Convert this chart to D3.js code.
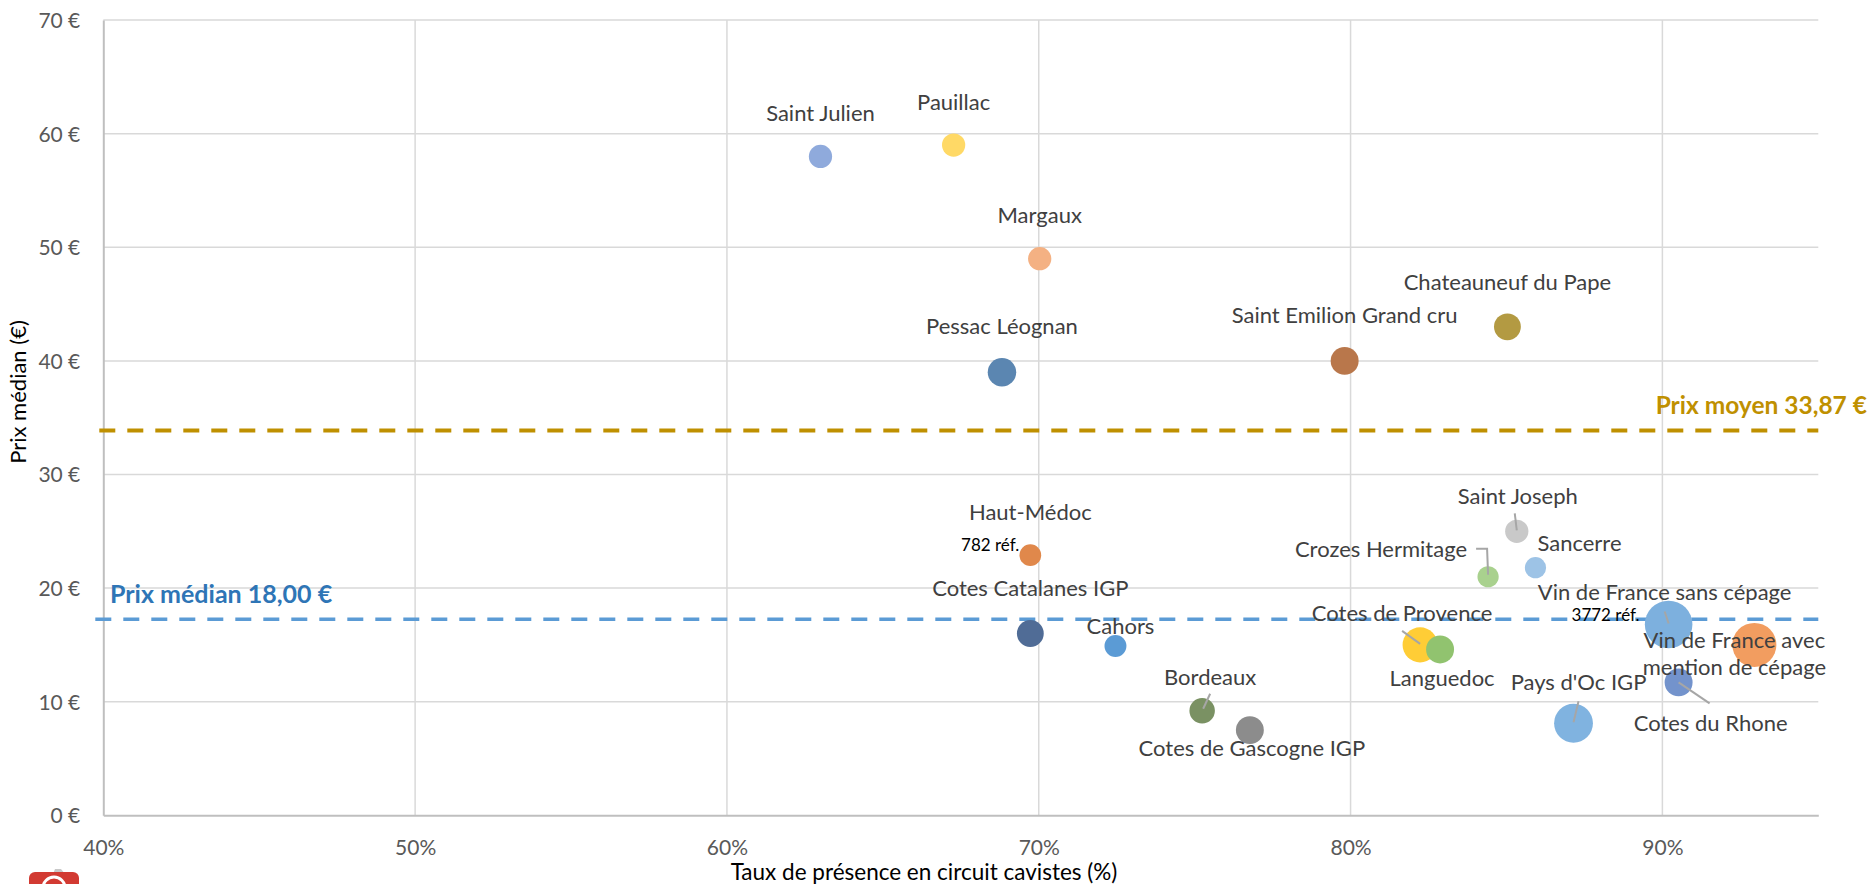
<!DOCTYPE html>
<html>
<head>
<meta charset="utf-8">
<script src="https://cdn.jsdelivr.net/npm/d3@7"></script>
<style>
  body { margin: 0; background: #fff; }
  svg { display: block; font-family: Lato, "Open Sans", sans-serif; }
</style>
</head>
<body>
<div id="chart"></div>
<script>
// appellations, in drawing order
const names = [
  "Saint Julien", "Pauillac", "Margaux", "Pessac Léognan",
  "Chateauneuf du Pape", "Saint Emilion Grand cru", "Haut-Médoc",
  "Cotes Catalanes IGP", "Cahors", "Bordeaux", "Cotes de Gascogne IGP",
  "Saint Joseph", "Crozes Hermitage", "Sancerre", "Cotes de Provence",
  "Languedoc", "Vin de France sans cépage", "Vin de France avec mention de cépage",
  "Cotes du Rhone", "Pays d'Oc IGP"
];
// taux de présence en circuit cavistes (%)
const presence = [63.0, 67.27, 70.03, 68.82, 85.03, 79.81, 69.73, 69.73, 72.46, 75.24,
                  76.77, 85.33, 84.41, 85.93, 82.23, 82.87, 90.2, 92.95, 90.52, 87.15];
// prix médian (€)
const prix = [58.0, 59.0, 49.0, 39.0, 43.0, 40.0, 22.9, 16.0, 14.9, 9.2,
              7.5, 25.0, 21.0, 21.8, 15.0, 14.6, 16.8, 15.0, 11.7, 8.1];
// nombre de références (taille des bulles)
const refs = [900, 900, 900, 1350, 1200, 1300, 782, 1200, 800, 1080,
              1300, 900, 750, 750, 2050, 1300, 3772, 3230, 1300, 2510];
const colors = ["#8FAADC", "#FFD966", "#F4B183", "#5B86B1", "#B39A42", "#B9774B", "#E0884B",
                "#506C96", "#5B9BD5", "#7A9163", "#8C8C8C", "#C9C9C9", "#A9D18E", "#9DC3E6",
                "#FFCD36", "#91C36F", "#7DB0DE", "#F29D60", "#7393CC", "#80B3E0"];

const xTicks = [40, 50, 60, 70, 80, 90];
const yTicks = [0, 10, 20, 30, 40, 50, 60, 70];
const prixMoyen = 33.87;
const prixMoyenLabel = "Prix moyen 33,87 €";
const prixMedianLine = 17.25;
const prixMedianLabel = "Prix médian 18,00 €";
const refNotes = [{ name: "Haut-Médoc", text: "782 réf." },
                  { name: "Vin de France sans cépage", text: "3772 réf." }];

// label placement relative to each bubble (pixels)
const labelPos = {
  "Saint Julien": { dx: 0, dy: -43 },
  "Pauillac": { dx: 0, dy: -43 },
  "Margaux": { dx: 0, dy: -43 },
  "Pessac Léognan": { dx: 0, dy: -46 },
  "Chateauneuf du Pape": { dx: 0, dy: -45 },
  "Saint Emilion Grand cru": { dx: 0, dy: -46 },
  "Haut-Médoc": { dx: 0, dy: -43 },
  "Cotes Catalanes IGP": { dx: 0, dy: -45 },
  "Cahors": { dx: 5, dy: -20 },
  "Bordeaux": { dx: 8, dy: -33, leader: [[8, -17], [1, -2]] },
  "Cotes de Gascogne IGP": { dx: 2, dy: 18 },
  "Saint Joseph": { dx: 1, dy: -35, leader: [[-2, -18], [0, -1]] },
  "Crozes Hermitage": { dx: -21, dy: -27, anchor: "end", leader: [[-12, -28], [-1, -28], [0, -2]] },
  "Sancerre": { dx: 44, dy: -24 },
  "Cotes de Provence": { dx: -18, dy: -32, leader: [[-18, -14], [0, -1]] },
  "Languedoc": { dx: 2, dy: 29 },
  "Vin de France sans cépage": { dx: -4, dy: -32, leader: [[-4, -13], [0, -1]] },
  "Vin de France avec mention de cépage": { dx: -20, dy: -5, lines: ["Vin de France avec", "mention de cépage"] },
  "Cotes du Rhone": { dx: 32, dy: 41, leader: [[0, 0], [31, 21]] },
  "Pays d'Oc IGP": { dx: 5, dy: -41, leader: [[5, -22], [0, -1]] }
};
const notePos = { "Haut-Médoc": { dx: -11, dy: -10 }, "Vin de France sans cépage": { dx: -29, dy: -9 } };

const width = 1872, height = 884;
const plotLeft = 103.3, plotRight = 1818.3, plotTop = 20.1, plotBottom = 815.3;

const data = names.map((n, i) => ({ name: n, x: presence[i], y: prix[i], refs: refs[i], color: colors[i] }));

const x = d3.scaleLinear().domain([40, 95]).range([plotLeft, plotRight]);
const y = d3.scaleLinear().domain([0, 70]).range([plotBottom, plotTop]);
const r = d3.scaleSqrt().domain([0, 3772]).range([0, 23.8]);

const svg = d3.select("#chart").append("svg")
  .attr("width", width)
  .attr("height", height);

// gridlines
svg.append("g")
  .selectAll("line")
  .data(yTicks.filter(d => d > 0))
  .join("line")
  .attr("x1", plotLeft).attr("x2", plotRight)
  .attr("y1", d => y(d)).attr("y2", d => y(d))
  .attr("stroke", "#D9D9D9").attr("stroke-width", 1.5);
svg.append("g")
  .selectAll("line")
  .data(xTicks.filter(d => d > 40))
  .join("line")
  .attr("x1", d => x(d)).attr("x2", d => x(d))
  .attr("y1", plotTop).attr("y2", plotBottom)
  .attr("stroke", "#D9D9D9").attr("stroke-width", 1.5);

// axes
const yAxis = svg.append("g")
  .attr("transform", `translate(${plotLeft},0)`)
  .call(d3.axisLeft(y).tickValues(yTicks).tickFormat(d => d + " €").tickSize(0).tickPadding(23));
const xAxis = svg.append("g")
  .attr("transform", `translate(0,${plotBottom})`)
  .call(d3.axisBottom(x).tickValues(xTicks).tickFormat(d => d + "%").tickSize(0));
[yAxis, xAxis].forEach(g => {
  g.select(".domain").attr("stroke", "#BFBFBF").attr("stroke-width", 2);
  g.selectAll("text").attr("font-size", 21).attr("fill", "#595959").attr("font-family", "Lato, sans-serif");
});
xAxis.selectAll("text").attr("y", 32).attr("dy", "0.35em");
yAxis.selectAll("text").attr("dy", "0.35em");

// axis titles
svg.append("text")
  .attr("x", 924).attr("y", 872)
  .attr("text-anchor", "middle").attr("dy", "0.35em")
  .attr("font-size", 22.5).attr("fill", "#000")
  .text("Taux de présence en circuit cavistes (%)");
svg.append("text")
  .attr("transform", "translate(18,392) rotate(-90)")
  .attr("text-anchor", "middle").attr("dy", "0.35em")
  .attr("font-size", 22).attr("fill", "#000")
  .text("Prix médian (€)");

// reference lines
svg.append("line")
  .attr("x1", plotLeft - 4).attr("x2", plotRight)
  .attr("y1", y(prixMoyen)).attr("y2", y(prixMoyen))
  .attr("stroke", "#BF9000").attr("stroke-width", 4).attr("stroke-dasharray", "16 12");
svg.append("line")
  .attr("x1", plotLeft - 8).attr("x2", plotRight)
  .attr("y1", y(prixMedianLine)).attr("y2", y(prixMedianLine))
  .attr("stroke", "#5B9BD5").attr("stroke-width", 3.5).attr("stroke-dasharray", "16 12");
svg.append("text")
  .attr("x", 1867).attr("y", y(prixMoyen) - 25).attr("dy", "0.35em")
  .attr("text-anchor", "end").attr("font-size", 24.5).attr("font-weight", "bold")
  .attr("fill", "#BF9000").text(prixMoyenLabel);
svg.append("text")
  .attr("x", 110).attr("y", y(prixMedianLine) - 25).attr("dy", "0.35em")
  .attr("font-size", 25).attr("font-weight", "bold")
  .attr("fill", "#2E75B6").text(prixMedianLabel);

// bubbles
svg.append("g")
  .selectAll("circle")
  .data(data)
  .join("circle")
  .attr("cx", d => x(d.x))
  .attr("cy", d => y(d.y))
  .attr("r", d => r(d.refs))
  .attr("fill", d => d.color);

// leader lines
const line = d3.line();
svg.append("g")
  .selectAll("path")
  .data(data.filter(d => labelPos[d.name].leader))
  .join("path")
  .attr("d", d => line(labelPos[d.name].leader.map(p => [x(d.x) + p[0], y(d.y) + p[1]])))
  .attr("fill", "none").attr("stroke", "#A6A6A6").attr("stroke-width", 2);

// labels
const labels = svg.append("g")
  .selectAll("text")
  .data(data)
  .join("text")
  .attr("x", d => x(d.x) + labelPos[d.name].dx)
  .attr("y", d => y(d.y) + labelPos[d.name].dy)
  .attr("text-anchor", d => labelPos[d.name].anchor || "middle")
  .attr("font-size", 22).attr("fill", "#404040");
labels.each(function(d) {
  const lp = labelPos[d.name];
  const t = d3.select(this);
  if (lp.lines) {
    lp.lines.forEach((s, i) => {
      t.append("tspan").attr("x", x(d.x) + lp.dx).attr("dy", i === 0 ? "0.35em" : 27).text(s);
    });
  } else {
    t.attr("dy", "0.35em").text(d.name);
  }
});

// reference counts
svg.append("g")
  .selectAll("text")
  .data(refNotes)
  .join("text")
  .attr("x", n => { const d = data.find(e => e.name === n.name); return x(d.x) + notePos[n.name].dx; })
  .attr("y", n => { const d = data.find(e => e.name === n.name); return y(d.y) + notePos[n.name].dy; })
  .attr("dy", "0.35em").attr("text-anchor", "end")
  .attr("font-size", 17).attr("fill", "#000")
  .text(n => n.text);

// logo, cut by the bottom edge
const logo = svg.append("g").attr("transform", "translate(29,872)");
logo.append("path").attr("d", "M26,-3 l6,0 l4,5 l-12,0 z").attr("fill", "#C8C8C8");
logo.append("rect").attr("width", 50).attr("height", 30).attr("rx", 6).attr("fill", "#D23A32");
logo.append("circle").attr("cx", 25).attr("cy", 16).attr("r", 11)
  .attr("fill", "none").attr("stroke", "#fff").attr("stroke-width", 3);
</script>
</body>
</html>
